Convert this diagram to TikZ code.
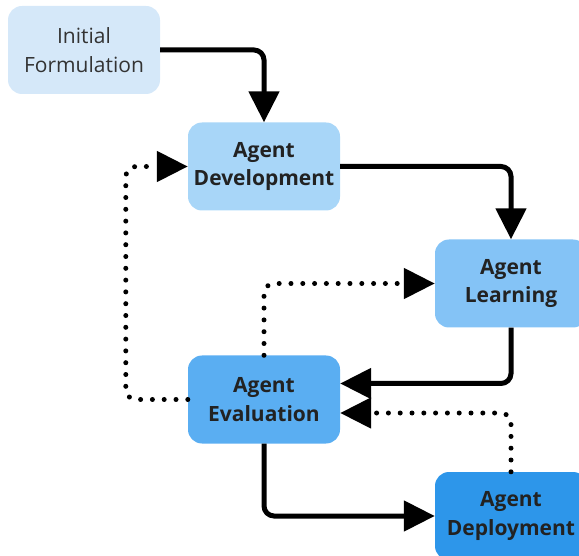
\documentclass[tikz,border=0pt]{standalone}
\usepackage{fontspec}
\setmainfont{Open Sans}
\usetikzlibrary{arrows.meta}

\definecolor{initfill}{HTML}{D5E8F9}
\definecolor{devfill}{HTML}{A8D6F8}
\definecolor{learnfill}{HTML}{84C3F6}
\definecolor{evalfill}{HTML}{5AAEF2}
\definecolor{deployfill}{HTML}{2D96EA}
\definecolor{inktext}{HTML}{222222}

\begin{document}
\begin{tikzpicture}[
        x=1pt, y=-1pt,
        stage/.style={rectangle, rounded corners=14pt, minimum width=152pt, minimum height=88pt,
            inner sep=0pt, align=center, text=inktext, font=\fontsize{21}{28.5}\selectfont\bfseries},
        flow/.style={line width=5pt, rounded corners=10pt, -{Triangle[length=31pt, width=30pt]}},
        feedback/.style={flow, line cap=round, dash pattern=on 0pt off 11.8pt}
    ]
        \useasboundingbox (0,0) rectangle (579,556);

        % stages of the agent life cycle
        \node[stage, fill=initfill, font=\fontsize{21}{28.5}\selectfont, text=black!80] (init) at (84,50) {Initial\\Formulation};
        \node[stage, fill=devfill] (dev) at (264,166.5) {Agent\\Development};
        \node[stage, fill=learnfill] (learn) at (511,283.5) {Agent\\Learning};
        \node[stage, fill=evalfill] (eval) at (264,399.5) {Agent\\Evaluation};
        \node[stage, fill=deployfill] (deploy) at (511,516) {Agent\\Deployment};

        % main path
        \draw[flow] (init.east) -| (dev.north);
        \draw[flow] (dev.east) -| (learn.north);
        \draw[flow] (learn.south) |- ([yshift=16pt]eval.east);
        \draw[flow] (eval.south) |- (deploy.west);

        % feedback loops
        \draw[feedback] (eval.west) -| ([xshift=-62pt]dev.west) -- (dev.west);
        \draw[feedback] (eval.north) |- (learn.west);
        \draw[feedback] (deploy.north) |- ([yshift=-13.5pt]eval.east);
    \end{tikzpicture}
\end{document}
